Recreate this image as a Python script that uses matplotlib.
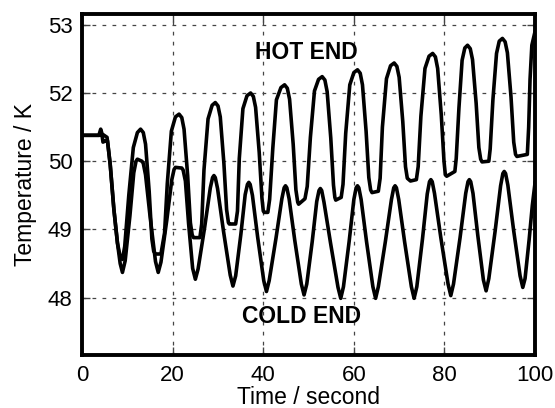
import matplotlib
matplotlib.use("Agg")
import matplotlib.pyplot as plt

plt.rcParams['font.family'] = ['Liberation Sans', 'DejaVu Sans']

# hot end trace (time in s, plotted temperature position)
hot_t = [0, 3.7, 4.1, 4.4, 5.5, 6.2, 7.0, 7.8, 8.4, 8.9,
         9.4, 10.3, 11.3, 12.2, 12.9,
         13.5, 14.0, 14.8, 15.4, 15.8, 16.2, 17.4,
         18.2, 18.8, 19.7, 20.6, 21.4,
         22.0, 22.5, 23.3, 23.9, 24.3, 24.6, 26.0,
         26.4, 26.9, 27.8, 28.7, 29.4,
         30.0, 30.5, 31.3, 31.9, 32.3, 32.5, 33.9,
         34.3, 34.7, 35.5, 36.4, 37.2,
         37.8, 38.3, 39.1, 39.7, 40.0, 40.2, 41.0,
         41.4, 42.1, 42.9, 43.9, 44.7,
         45.3, 45.8, 46.6, 47.2, 47.6, 47.8, 49.2,
         49.7, 50.4, 51.3, 52.2, 53.0,
         53.6, 54.1, 54.9, 55.5, 55.8, 56.0, 57.2,
         57.6, 58.2, 59.1, 60.0, 60.8,
         61.4, 61.9, 62.7, 63.3, 63.7, 64.0, 65.4,
         65.8, 66.3, 67.2, 68.1, 68.9,
         69.5, 70.0, 70.8, 71.4, 71.8, 72.5, 73.8,
         74.2, 74.8, 75.7, 76.6, 77.4,
         78.0, 78.5, 79.3, 79.9, 80.2, 80.5, 82.3,
         82.6, 83.2, 83.9, 84.5, 85.1,
         85.7, 86.2, 87.0, 87.6, 88.0, 88.3, 89.8,
         90.1, 90.7, 91.5, 92.1, 92.8,
         93.4, 93.9, 94.7, 95.3, 95.7, 96.0, 98.3,
         98.6, 98.9, 99.3, 100]
hot_T = [50.38, 50.38, 50.47, 50.40, 50.35, 49.95, 49.30, 48.80, 48.60, 48.56,
         48.75, 49.50, 50.20, 50.42, 50.47,
         50.42, 50.25, 49.56, 48.86, 48.68, 48.64, 48.64,
         48.95, 49.67, 50.44, 50.65, 50.69,
         50.64, 50.47, 49.79, 49.10, 48.92, 48.88, 48.88,
         49.08, 49.87, 50.62, 50.82, 50.86,
         50.81, 50.65, 49.97, 49.29, 49.10, 49.08, 49.08,
         49.27, 50.04, 50.77, 50.96, 51.00,
         50.95, 50.79, 50.13, 49.46, 49.27, 49.25, 49.25,
         49.44, 50.19, 50.90, 51.08, 51.12,
         51.07, 50.91, 50.25, 49.58, 49.40, 49.37, 49.45,
         49.63, 50.35, 51.03, 51.20, 51.24,
         51.19, 51.02, 50.34, 49.65, 49.47, 49.43, 49.47,
         49.66, 50.41, 51.12, 51.30, 51.34,
         51.29, 51.12, 50.44, 49.76, 49.58, 49.54, 49.56,
         49.75, 50.50, 51.21, 51.40, 51.44,
         51.39, 51.23, 50.58, 49.92, 49.75, 49.71, 49.73,
         49.92, 50.66, 51.36, 51.54, 51.58,
         51.53, 51.36, 50.68, 50.00, 49.80, 49.78, 49.85,
         50.04, 50.78, 51.48, 51.66, 51.70,
         51.65, 51.49, 50.85, 50.20, 50.03, 49.99, 50.00,
         50.18, 50.90, 51.58, 51.76, 51.80,
         51.75, 51.59, 50.94, 50.28, 50.10, 50.07, 50.10,
         50.50, 51.20, 51.70, 51.90]

# cold end trace
cold_t = [0, 4.4, 4.6, 5.2, 5.6, 6.2, 7.0, 7.8, 8.4, 8.9,
          9.5, 10.55, 11.4, 11.9, 12.2, 13.2,
          13.5, 14.0, 15.0, 16.2, 16.8,
          17.4, 18.7, 19.8, 20.3, 20.6, 22.0,
          22.3, 22.8, 23.5, 24.4, 25.0,
          25.6, 27.05, 28.3, 28.8, 29.1,
          29.4, 29.9, 31.2, 32.7, 33.3,
          33.9, 35.05, 36.0, 36.5, 36.8,
          37.1, 37.6, 38.75, 40.1, 40.7,
          41.3, 42.8, 44.1, 44.6, 44.9,
          45.2, 45.7, 46.95, 48.4, 49.0,
          49.6, 50.8, 51.8, 52.3, 52.6,
          52.9, 53.4, 54.85, 56.5, 57.1,
          57.7, 58.95, 60.0, 60.5, 60.8,
          61.1, 61.6, 62.8, 64.2, 64.8,
          65.4, 66.95, 68.3, 68.8, 69.1,
          69.4, 69.9, 71.2, 72.7, 73.3,
          73.9, 75.15, 76.2, 76.7, 77.0,
          77.3, 77.8, 79.2, 80.8, 81.4,
          82.0, 83.45, 84.7, 85.2, 85.5,
          85.8, 86.3, 87.35, 88.6, 89.2,
          89.8, 91.2, 92.4, 92.9, 93.2,
          93.5, 94.0, 95.25, 96.7, 97.3,
          97.8, 98.7, 99.4, 100]
cold_T = [50.38, 50.38, 50.28, 50.30, 50.30, 49.95, 49.30, 48.80, 48.50, 48.37,
          48.54, 49.20, 49.83, 50.00, 50.03, 50.00,
          49.97, 49.80, 49.19, 48.53, 48.37,
          48.52, 49.14, 49.73, 49.88, 49.91, 49.90,
          49.87, 49.71, 49.09, 48.43, 48.27,
          48.42, 49.03, 49.61, 49.76, 49.79,
          49.76, 49.60, 48.98, 48.33, 48.17,
          48.32, 48.93, 49.51, 49.66, 49.69,
          49.66, 49.50, 48.89, 48.25, 48.09,
          48.25, 48.87, 49.45, 49.61, 49.64,
          49.61, 49.45, 48.84, 48.20, 48.04,
          48.20, 48.82, 49.41, 49.57, 49.60,
          49.57, 49.40, 48.80, 48.15, 47.99,
          48.16, 48.82, 49.44, 49.61, 49.64,
          49.61, 49.44, 48.82, 48.16, 47.99,
          48.16, 48.82, 49.44, 49.61, 49.64,
          49.61, 49.44, 48.82, 48.16, 47.99,
          48.16, 48.86, 49.52, 49.70, 49.73,
          49.70, 49.53, 48.88, 48.20, 48.03,
          48.20, 48.88, 49.53, 49.70, 49.73,
          49.70, 49.53, 48.92, 48.26, 48.10,
          48.28, 48.98, 49.64, 49.82, 49.85,
          49.82, 49.65, 49.00, 48.32, 48.15,
          48.28, 48.85, 49.35, 49.68]

x_ticks = [0, 20, 40, 60, 80, 100]
y_ticks = [48, 49, 50, 51, 52]
y_tick_labels = ['48', '49', '50', '52', '53']

fig = plt.figure(figsize=(5.55, 4.08), dpi=100)
ax = fig.add_axes([0.148, 0.130, 0.816, 0.836])

ax.plot(hot_t, hot_T, color='black', lw=2.6, solid_joinstyle='round', zorder=3)
ax.plot(cold_t, cold_T, color='black', lw=2.6, solid_joinstyle='round', zorder=3)

ax.set_xlim(0, 100)
ax.set_ylim(47.16, 52.16)
ax.set_xticks(x_ticks)
ax.set_yticks(y_ticks)
ax.set_yticklabels(y_tick_labels)

ax.grid(True, color='#444444', lw=0.9, linestyle=(0, (3, 5)))
ax.tick_params(direction='in', length=6, width=1, color='#444444',
               top=True, right=True, labelsize=16, pad=7)
for s in ax.spines.values():
    s.set_linewidth(2.8)

ax.set_xlabel('Time / second', fontsize=16.5, labelpad=0)
ax.set_ylabel('Temperature / K', fontsize=16.5, labelpad=8)

ax.text(49.5, 51.59, 'HOT END', fontsize=16.5, fontweight='bold',
        ha='center', va='center')
ax.text(48.5, 47.72, 'COLD END', fontsize=16.5, fontweight='bold',
        ha='center', va='center')

fig.savefig('out.png', dpi=100)
